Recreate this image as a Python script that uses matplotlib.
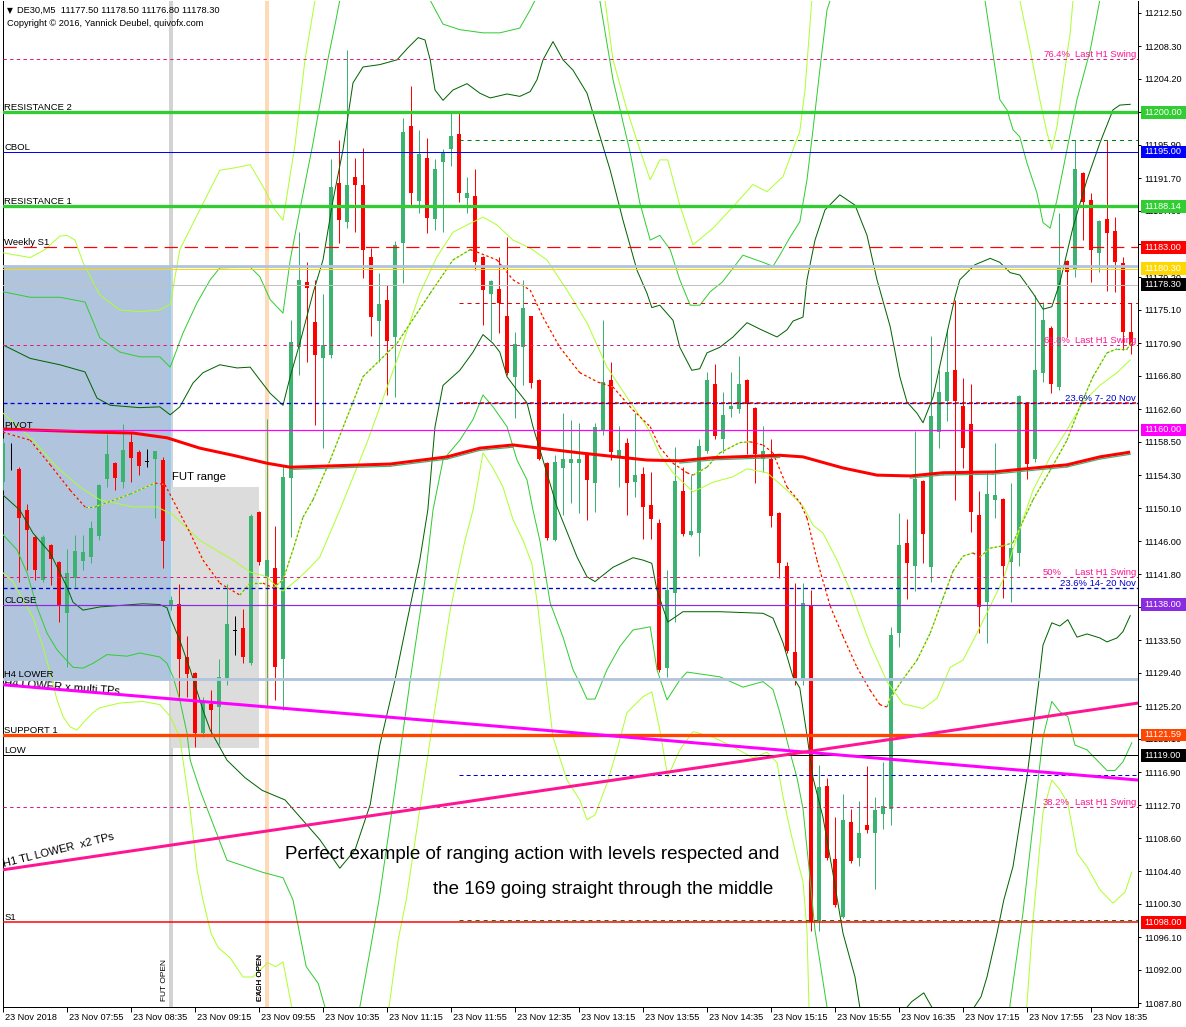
import numpy as np
import matplotlib
matplotlib.use("Agg")
import matplotlib.pyplot as plt
from matplotlib.patches import Rectangle
import matplotlib.transforms as mtransforms

plt.rcParams['font.family'] = ['Liberation Sans', 'DejaVu Sans']
plt.rcParams['lines.scale_dashes'] = False
plt.rcParams['axes.unicode_minus'] = False

# ---------------- data ----------------
time_labels = ['23 Nov 2018', '23 Nov 07:55', '23 Nov 08:35', '23 Nov 09:15', '23 Nov 09:55',
               '23 Nov 10:35', '23 Nov 11:15', '23 Nov 11:55', '23 Nov 12:35', '23 Nov 13:15',
               '23 Nov 13:55', '23 Nov 14:35', '23 Nov 15:15', '23 Nov 15:55', '23 Nov 16:35',
               '23 Nov 17:15', '23 Nov 17:55', '23 Nov 18:35']
time_label_bars = list(range(0, 137, 8))

price_ticks = [11212.50, 11208.30, 11204.20, 11200.00, 11195.90, 11191.70, 11187.60, 11183.40,
               11179.20, 11175.10, 11170.90, 11166.80, 11162.60, 11158.50, 11154.30, 11150.10,
               11146.00, 11141.80, 11137.70, 11133.50, 11129.40, 11125.20, 11121.10, 11116.90,
               11112.70, 11108.60, 11104.40, 11100.30, 11096.10, 11092.00, 11087.80]

opens = [11153.4, 11156.2, 11155.1, 11149.9, 11146.5, 11141.1, 11145.5, 11143.4, 11136.9, 11141.3,
         11143.5, 11144.0, 11146.6, 11153.8, 11155.8, 11153.4, 11158.5, 11157.2, 11156.0, 11156.3,
         11156.2, 11138.0, 11138.1, 11131.4, 11129.4, 11121.8, 11125.5, 11125.1, 11128.8, 11134.7,
         11135.1, 11130.6, 11149.7, 11141.5, 11142.6, 11131.1, 11153.9, 11170.4, 11178.6, 11173.6,
         11169.1, 11169.4, 11191.1, 11186.2, 11191.9, 11190.8, 11181.8, 11173.7, 11176.4, 11171.7,
         11183.5, 11198.3, 11188.8, 11194.2, 11186.6, 11193.7, 11195.4, 11197.3, 11189.2, 11189.5,
         11181.8, 11177.1, 11177.7, 11174.3, 11166.7, 11170.4, 11174.3, 11166.3, 11155.8, 11146.1,
         11155.2, 11155.8, 11155.8, 11156.8, 11153.3, 11159.9, 11166.3, 11156.7, 11158.4, 11153.4,
         11154.4, 11150.5, 11148.3, 11130.0, 11139.5, 11152.3, 11146.8, 11147.0, 11157.3, 11165.8,
         11158.9, 11162.6, 11162.6, 11166.3, 11162.8, 11156.3, 11156.3, 11149.5, 11142.9, 11132.0,
         11128.4, 11137.8, 11098.1, 11115.1, 11106.0, 11098.7, 11110.6, 11106.1, 11110.2, 11109.2,
         11111.6, 11112.3, 11134.4, 11145.8, 11142.9, 11153.6, 11142.7, 11159.7, 11163.6, 11167.5,
         11163.0, 11160.7, 11149.3, 11138.3, 11151.2, 11151.3, 11143.4, 11144.5, 11163.4, 11156.3,
         11167.2, 11172.8, 11165.4, 11181.3, 11180.3, 11192.4, 11189.0, 11182.3, 11186.6, 11185.0,
         11181.0, 11172.3]
highs = [11159.0, 11158.4, 11155.3, 11150.7, 11146.8, 11146.8, 11145.6, 11143.5, 11145.0, 11146.8,
         11146.8, 11148.5, 11153.2, 11159.5, 11156.0, 11160.7, 11159.7, 11157.5, 11157.6, 11157.4,
         11156.6, 11139.1, 11140.6, 11134.0, 11129.5, 11126.4, 11127.2, 11131.1, 11140.6, 11136.6,
         11137.4, 11149.4, 11149.8, 11161.4, 11147.9, 11155.5, 11173.8, 11184.9, 11181.1, 11178.9,
         11177.1, 11194.1, 11196.5, 11207.8, 11194.2, 11195.5, 11182.9, 11179.7, 11178.2, 11183.8,
         11199.3, 11203.3, 11197.8, 11196.8, 11194.1, 11195.4, 11199.9, 11199.9, 11191.9, 11192.9,
         11181.9, 11178.9, 11181.8, 11184.3, 11172.3, 11178.9, 11174.4, 11166.4, 11156.0, 11156.8,
         11162.1, 11161.2, 11160.9, 11157.2, 11160.9, 11173.8, 11168.6, 11160.5, 11159.0, 11162.1,
         11155.3, 11154.7, 11148.8, 11142.4, 11157.9, 11155.3, 11154.3, 11158.9, 11167.3, 11168.3,
         11164.8, 11167.3, 11169.3, 11166.4, 11162.9, 11160.5, 11158.9, 11149.6, 11143.4, 11140.7,
         11140.7, 11139.8, 11117.8, 11116.2, 11111.2, 11114.1, 11112.3, 11113.3, 11117.7, 11113.8,
         11118.2, 11135.2, 11149.5, 11148.8, 11159.9, 11153.7, 11171.8, 11167.5, 11172.6, 11176.4,
         11166.5, 11165.8, 11152.3, 11154.7, 11158.4, 11151.4, 11153.3, 11164.4, 11163.5, 11177.0,
         11176.1, 11173.1, 11187.3, 11181.4, 11196.5, 11192.5, 11189.8, 11186.4, 11196.5, 11186.8,
         11181.8, 11176.0]
lows = [11152.4, 11155.0, 11140.8, 11142.4, 11141.1, 11140.8, 11140.5, 11135.8, 11130.1, 11140.2,
        11142.4, 11143.2, 11146.1, 11152.8, 11152.4, 11152.7, 11153.4, 11154.3, 11155.3, 11148.9,
        11142.6, 11137.3, 11126.4, 11126.4, 11120.1, 11121.3, 11121.8, 11120.4, 11127.9, 11131.6,
        11130.6, 11130.4, 11143.0, 11125.1, 11126.0, 11124.7, 11146.5, 11166.9, 11168.6, 11160.6,
        11157.7, 11169.1, 11183.5, 11185.4, 11184.9, 11179.1, 11171.8, 11168.6, 11164.4, 11164.1,
        11178.5, 11188.3, 11187.3, 11184.8, 11185.2, 11184.9, 11193.2, 11188.7, 11187.3, 11180.1,
        11173.2, 11171.3, 11172.2, 11166.9, 11161.5, 11165.6, 11165.3, 11156.2, 11146.1, 11146.0,
        11149.3, 11150.8, 11149.5, 11148.6, 11149.6, 11159.4, 11156.2, 11152.8, 11149.3, 11151.6,
        11146.3, 11146.3, 11129.5, 11128.9, 11135.8, 11146.6, 11146.6, 11144.1, 11157.1, 11158.9,
        11157.1, 11161.6, 11162.1, 11157.0, 11153.3, 11154.7, 11147.8, 11141.3, 11131.9, 11127.9,
        11127.9, 11096.9, 11096.9, 11105.8, 11099.9, 11098.5, 11105.5, 11105.1, 11109.2, 11102.2,
        11109.7, 11110.2, 11132.7, 11138.7, 11139.7, 11143.2, 11140.8, 11157.7, 11161.1, 11151.2,
        11155.2, 11147.1, 11134.4, 11133.2, 11148.9, 11138.8, 11138.3, 11142.9, 11153.8, 11156.0,
        11166.0, 11164.6, 11165.0, 11171.7, 11179.3, 11183.9, 11178.6, 11179.9, 11177.5, 11177.4,
        11170.1, 11169.6]
closes = [11158.4, 11156.2, 11148.9, 11147.4, 11142.4, 11146.5, 11143.7, 11138.0, 11142.0, 11144.8,
          11144.6, 11147.6, 11153.1, 11157.0, 11153.9, 11157.5, 11156.5, 11155.5, 11156.0, 11157.3,
          11146.0, 11138.6, 11131.1, 11129.3, 11121.8, 11125.6, 11124.7, 11128.9, 11135.6, 11134.7,
          11131.4, 11149.1, 11143.4, 11143.6, 11130.1, 11154.1, 11171.1, 11178.9, 11177.9, 11169.4,
          11170.7, 11190.6, 11186.4, 11190.8, 11190.8, 11182.7, 11174.2, 11175.9, 11171.2, 11183.3,
          11197.5, 11189.8, 11194.8, 11186.7, 11192.9, 11194.9, 11197.0, 11189.8, 11189.8, 11181.1,
          11177.6, 11178.8, 11176.0, 11167.2, 11170.8, 11175.4, 11165.9, 11156.3, 11146.4, 11156.0,
          11156.3, 11156.3, 11156.3, 11153.7, 11160.4, 11166.0, 11157.2, 11157.5, 11153.3, 11154.3,
          11150.3, 11148.8, 11129.8, 11139.8, 11153.6, 11146.9, 11147.3, 11158.0, 11166.3, 11159.2,
          11161.9, 11163.0, 11165.8, 11163.3, 11157.0, 11157.3, 11149.2, 11143.2, 11132.2, 11128.5,
          11138.2, 11098.0, 11115.0, 11106.1, 11100.2, 11110.9, 11105.7, 11109.2, 11109.6, 11112.1,
          11112.6, 11134.2, 11145.5, 11143.2, 11153.8, 11146.9, 11161.7, 11164.8, 11167.3, 11163.6,
          11157.7, 11149.7, 11137.7, 11151.9, 11151.8, 11142.9, 11145.1, 11164.3, 11155.7, 11167.5,
          11173.8, 11165.8, 11180.5, 11179.9, 11192.9, 11188.7, 11182.7, 11186.3, 11184.8, 11181.1,
          11172.3, 11170.7]

# 169 EMA (thick red)
ema169_bar = [0, 12.1, 16.25, 20.5, 24.6, 28.75, 33, 35.9, 48.4, 55.5, 59.6, 63.75, 72.1, 80.5, 84.6,
              88.75, 97.1, 100, 105, 109.25, 113.4, 117.5, 123.75, 133, 137.1, 140.9]
ema169_price = [11160.1, 11159.7, 11159.6, 11159.0, 11157.7, 11156.8, 11155.8, 11155.3, 11155.7,
                11156.6, 11157.7, 11158.1, 11157.1, 11156.2, 11156.1, 11156.5, 11156.8, 11156.6,
                11155.2, 11154.3, 11154.2, 11154.6, 11154.7, 11155.6, 11156.6, 11157.2]

# band centre moving average (thin yellow-green)
mid_bar = [0, 3.75, 6.75, 9.6, 12.1, 16.25, 19.25, 21.25, 24.6, 28.75, 30.9, 33, 34.25, 35, 36.75, 38.4,
           39.6, 42.1, 45.5, 49.25, 52.1, 54.25, 56.25, 58, 60, 61.75, 63.75, 65.9, 68, 70.5, 73, 75.5,
           78, 80.5, 82.1, 83.75, 86.25, 88.75, 91.25, 93, 95.5, 98, 100, 101.25, 102.5, 104.25, 105.9,
           108.4, 110.5, 112.5, 115, 116.75, 118.4, 120, 121.75, 123.4, 125, 126.75, 128.75, 130.9,
           133, 135, 137.1, 139.25, 140.9]
mid_price = [11162.1, 11158.7, 11155.3, 11152.8, 11151.2, 11150.3, 11150.3, 11149.3, 11146.1, 11143.6,
             11142.1, 11141.5, 11140.2, 11139.7, 11141.1, 11142.7, 11144.0, 11149.9, 11158.4, 11168.8,
             11177.2, 11181.8, 11184.9, 11185.8, 11186.8, 11185.8, 11183.9, 11182.9, 11181.4, 11177.6,
             11173.5, 11167.9, 11164.1, 11160.4, 11156.9, 11154.6, 11152.2, 11153.4, 11154.1, 11155.1,
             11154.6, 11152.4, 11150.4, 11148.0, 11147.0, 11143.6, 11139.8, 11133.0, 11128.3, 11125.5,
             11124.9, 11126.2, 11130.1, 11131.0, 11134.4, 11137.8, 11141.1, 11146.5, 11152.4, 11156.6,
             11160.0, 11163.5, 11165.6, 11167.2, 11168.8]

# fast moving average (two-colour dashed)
fast_bar = [0, 3.4, 5.9, 8.4, 10.25, 11.5, 15.9, 19, 20.25, 23.4, 25, 27.1, 29.6, 30.9, 32.5, 33.75, 35,
            36.25, 37.5, 38.75, 40.9, 45, 49.25, 53.4, 56.25, 58.4, 59.25, 61.75, 63.75, 65.9, 67.5,
            69.6, 72.1, 74.4, 76.25, 78.75, 80.9, 82.1, 83.75, 85.5, 86.25, 88, 89.6, 92.1, 93.4, 95,
            96.25, 98, 99.6, 100.5, 101.75, 103.4, 105, 106.75, 108.4, 109.6, 110.5, 110.9, 112.5,
            114.25, 115.9, 117.5, 118.75, 120, 121.25, 122.1, 123.4, 125, 126.25, 128.75, 130.9, 133,
            134.6, 136.25, 138, 139.25, 140.5, 141.1]
fast_price = [11159.7, 11158.7, 11155.6, 11152.4, 11150.3, 11150.3, 11151.9, 11153.3, 11153.1, 11147.0,
              11143.6, 11140.7, 11139.2, 11140.7, 11140.7, 11140.1, 11141.1, 11144.9, 11149.0, 11151.2,
              11156.2, 11166.7, 11170.9, 11177.2, 11181.4, 11182.7, 11182.4, 11181.4, 11178.9, 11177.6,
              11174.2, 11170.4, 11167.2, 11166.0, 11165.4, 11162.5, 11160.4, 11157.8, 11155.8, 11154.6,
              11154.3, 11155.3, 11157.1, 11158.4, 11158.5, 11158.1, 11157.1, 11152.8, 11150.9, 11148.9,
              11143.6, 11137.8, 11134.0, 11130.1, 11127.2, 11125.4, 11125.1, 11126.2, 11128.6, 11131.0,
              11134.4, 11138.8, 11142.2, 11144.1, 11144.5, 11144.0, 11145.1, 11145.4, 11145.8, 11151.2,
              11154.9, 11158.7, 11162.9, 11166.7, 11169.7, 11170.2, 11170.2, 11171.0]

# envelope bands (inner dark green, middle green, outer yellow-green)
dg_up_bar = [0, 3.4, 7.1, 10.25, 11.75, 13.4, 17.1, 19.6, 20.9, 22.1, 23.75, 25, 27.1, 29.25, 30.9, 32.1,
             33.4, 35, 35.9, 37.1, 38.75, 40, 41.25, 42.5, 43.75, 45, 47.1, 49.25, 50.6, 51.9, 52.75, 53.4,
             54, 55, 56.25, 58, 59.6, 60.9, 63, 64.6, 65.9, 66.75, 67.5, 68.75, 70, 71.25, 73, 74.25, 75.9,
             77.5, 79.25, 80.5, 81.1, 82.1, 83.75, 84.6, 86.1, 87.1, 88, 89.6, 91.25, 93, 94.6, 96.75, 98,
             98.75, 100, 100.5, 101.5, 102.75, 104.6, 106.5, 108, 109.25, 110.9, 112.1, 113, 114.25, 115,
             116.25, 118, 119, 119.6, 121.5, 123.4, 124.6, 125.9, 127.1, 128.75, 130, 131.1, 132.1,
             133.75, 135.5, 137.1, 138.75, 139.6, 140.9]
dg_up_price = [11170.7, 11169.0, 11168.2, 11167.3, 11164.0, 11163.1, 11162.8, 11162.9, 11161.9, 11162.9,
               11165.9, 11167.2, 11168.2, 11167.8, 11167.9, 11166.3, 11164.6, 11163.1, 11166.7, 11170.9,
               11177.2, 11181.4, 11188.9, 11195.3, 11203.7, 11205.7, 11206.0, 11206.6, 11208.1, 11209.4,
               11209.1, 11206.6, 11202.8, 11201.5, 11202.8, 11203.6, 11202.4, 11201.8, 11202.3, 11202.0,
               11202.6, 11204.1, 11206.6, 11208.9, 11206.6, 11205.3, 11202.4, 11198.2, 11192.7, 11186.4,
               11180.1, 11177.2, 11175.4, 11175.7, 11173.8, 11170.4, 11167.5, 11167.7, 11169.7, 11170.4,
               11171.7, 11173.5, 11172.7, 11171.7, 11172.6, 11173.7, 11174.2, 11178.9, 11183.9, 11187.7,
               11189.6, 11188.3, 11184.5, 11178.9, 11173.0, 11166.7, 11163.5, 11162.1, 11160.9, 11164.1,
               11172.2, 11176.7, 11178.9, 11180.8, 11181.6, 11181.1, 11179.8, 11179.5, 11177.2, 11175.2,
               11175.5, 11178.5, 11185.5, 11191.5, 11196.1, 11200.3, 11200.9, 11201.0]
dg_lo_bar = [0, 2.1, 3.75, 5.9, 8, 8.75, 10, 12.1, 17.5, 19.6, 20.5, 20.9, 22.1, 23.4, 25, 25.9, 28, 30.25,
             32.4, 35.25, 39.6, 42.1, 44, 45.9, 47.1, 49, 50.4, 52.1, 53.1, 54, 55, 57.1, 58.75, 60, 61.25,
             62.1, 63, 64.25, 65.5, 66.25, 67.5, 69.25, 71.75, 73, 74, 76.25, 78.75, 80, 81.1, 81.75, 83.1,
             85, 89.6, 95, 96.25, 97.5, 98.75, 99.6, 100.5, 101.25, 102.5, 103.75, 105, 106.5, 107.1,
             108.4, 112.1, 113, 113.6, 115.1, 116.1, 117.75, 120.25, 121.4, 122.25, 123, 124.25, 125.1,
             126.25, 128, 129.5, 130, 131.1, 132.1, 133.1, 134.25, 135.5, 137.1, 138, 139.25, 140, 140.9]
dg_lo_price = [11151.8, 11149.9, 11147.0, 11144.5, 11140.2, 11138.3, 11137.3, 11137.7, 11138.1, 11138.0,
               11137.6, 11136.4, 11133.5, 11129.8, 11124.7, 11122.2, 11118.4, 11116.2, 11114.6, 11113.4,
               11108.4, 11104.8, 11107.1, 11112.8, 11120.3, 11128.5, 11135.4, 11143.6, 11149.9, 11160.4,
               11165.6, 11167.5, 11169.8, 11172.0, 11170.9, 11169.8, 11166.7, 11165.0, 11163.4, 11160.4,
               11156.2, 11150.3, 11144.0, 11141.5, 11140.9, 11142.7, 11143.9, 11143.6, 11143.2, 11139.8,
               11135.8, 11137.1, 11137.1, 11136.9, 11136.3, 11133.2, 11128.9, 11127.5, 11121.5, 11116.2,
               11111.2, 11104.1, 11096.6, 11091.1, 11087.3, 11080.6, 11080.6, 11087.3, 11088.0, 11089.1,
               11087.3, 11080.6, 11080.6, 11087.3, 11088.6, 11091.1, 11096.6, 11100.8, 11105.0, 11116.3,
               11128.5, 11132.9, 11135.7, 11135.3, 11136.1, 11133.9, 11134.3, 11133.8, 11133.3, 11133.8,
               11134.6, 11136.6]
g_up_bar = [0, 3.4, 7.1, 10.25, 12.1, 14.6, 17.1, 19.6, 20.9, 22.5, 24.25, 25.9, 27.1, 30.9, 32.1, 33.4, 35,
            35.9, 37.1, 38.75, 40, 40.6, 41.5, 42.1, 42.75, 52.75, 53.4, 55, 57.1, 60, 62.1, 64.6, 65.9,
            66.5, 67.1, 74, 74.6, 76.25, 78.4, 79.6, 80.9, 82.1, 83.4, 84.6, 85.9, 87.1, 88.4, 89.9, 92.5,
            95, 96.25, 97.1, 98.4, 99.6, 100.5, 101.25, 102.1, 103, 103.4, 104, 122.1, 122.75, 124.6,
            125.5, 126.25, 127.1, 128, 129.25, 130, 130.9, 131.75, 133, 134.25, 135.9, 137.1, 137.75, 142.1]
g_up_price = [11177.4, 11176.7, 11176.7, 11176.1, 11171.6, 11169.8, 11169.2, 11169.2, 11167.9, 11172.2,
              11176.0, 11178.9, 11180.4, 11180.5, 11179.3, 11176.4, 11174.7, 11181.4, 11187.7, 11196.1,
              11203.2, 11206.6, 11211.0, 11214.1, 11219.2, 11219.2, 11214.1, 11211.1, 11210.4, 11210.0,
              11210.0, 11210.6, 11212.9, 11214.1, 11219.2, 11219.2, 11214.1, 11204.1, 11194.9, 11188.6,
              11183.9, 11184.5, 11182.7, 11178.9, 11175.7, 11175.7, 11177.4, 11178.6, 11182.0, 11181.1,
              11180.6, 11182.0, 11184.3, 11186.2, 11191.5, 11197.8, 11205.3, 11212.9, 11214.1, 11219.2,
              11219.2, 11214.1, 11201.6, 11200.3, 11197.8, 11196.9, 11193.6, 11189.8, 11186.1, 11185.4,
              11189.0, 11195.3, 11201.6, 11207.8, 11214.1, 11219.2, 11219.2]
g_lo_bar = [0, 1.75, 3, 4.25, 5.5, 6.75, 8.75, 10, 11.25, 13, 15.5, 17.1, 19.6, 20.5, 21.25, 22.1, 23, 23.4,
            24.6, 28, 32.4, 35, 36.25, 37.9, 39.4, 40.25, 40.9, 44, 44.6, 45.9, 47, 49, 50.9, 52.75, 53.75,
            55, 57.1, 58.75, 60, 61.25, 63, 64.25, 65.5, 66.25, 67.1, 68.4, 70, 71.25, 72.1, 73, 74, 75.5,
            77.1, 78.75, 80.9, 81.75, 83, 84.6, 85.5, 89.6, 92.5, 95, 96.25, 97.1, 98.4, 99.25, 100, 100.9,
            101.5, 103, 104, 125.25, 125.9, 127.5, 129.25, 130, 131.1, 132.1, 133.1, 134, 135.5, 136.75,
            138, 139, 140, 141.1]
g_lo_price = [11146.8, 11144.9, 11142.0, 11137.7, 11134.4, 11132.3, 11130.1, 11130.0, 11130.6, 11131.7,
              11131.5, 11131.9, 11131.4, 11130.6, 11128.9, 11126.0, 11121.8, 11118.4, 11114.7, 11105.8,
              11104.3, 11103.6, 11100.8, 11092.4, 11090.3, 11087.3, 11081.9, 11081.9, 11087.3, 11094.5,
              11100.8, 11114.7, 11128.5, 11141.1, 11149.9, 11156.2, 11158.7, 11161.3, 11164.4, 11162.9,
              11160.4, 11156.2, 11153.7, 11149.9, 11146.1, 11138.2, 11133.9, 11129.8, 11128.1, 11126.1,
              11126.1, 11129.8, 11132.7, 11134.8, 11135.2, 11129.8, 11126.0, 11128.5, 11129.5, 11128.9,
              11127.6, 11128.3, 11127.3, 11124.4, 11119.3, 11116.2, 11112.3, 11103.3, 11097.0, 11087.3,
              11081.9, 11081.9, 11087.8, 11099.2, 11114.7, 11121.3, 11125.8, 11124.5, 11123.9, 11120.3,
              11119.7, 11118.4, 11117.1, 11117.1, 11118.2, 11120.6]
yg_up_bar = [0, 3.4, 5.25, 7.1, 8, 9, 10, 12.1, 14.6, 17.1, 19.6, 20.9, 22.1, 24.6, 27.1, 29, 30.9, 32.75,
             34, 35, 36.5, 37.75, 39, 39.6, 74.6, 75.25, 76.25, 78, 79.6, 80.9, 82.1, 83.1, 84.6, 86.25,
             88.75, 91.25, 93.75, 95.5, 97.5, 99.6, 100.25, 101.1, 101.5, 126.75, 127.1, 128.4, 129.6,
             130.5, 131.1, 131.75, 132.5, 133.4, 133.75, 134.1, 142.1]
yg_up_price = [11182.3, 11181.7, 11182.7, 11184.4, 11184.5, 11183.9, 11181.1, 11177.0, 11175.1, 11174.9,
               11175.1, 11175.8, 11182.7, 11187.7, 11192.7, 11193.0, 11193.4, 11190.2, 11187.7, 11186.4,
               11195.9, 11206.6, 11214.1, 11220.4, 11220.4, 11214.1, 11206.6, 11200.3, 11195.3, 11191.5,
               11194.0, 11194.0, 11188.3, 11183.3, 11185.4, 11188.1, 11190.9, 11190.0, 11191.9, 11197.6,
               11202.8, 11214.1, 11220.4, 11220.4, 11214.1, 11207.8, 11201.6, 11197.4, 11195.3, 11198.2,
               11203.7, 11210.0, 11214.1, 11220.4, 11220.4]
yg_lo_bar = [0, 1.25, 2.5, 3.75, 5, 5.9, 6.75, 7.5, 8.4, 9.25, 10, 11.25, 12.1, 14.6, 17.5, 19.6, 20.9, 22.1,
             22.5, 23.4, 24.25, 25, 26, 26.9, 28.4, 30, 31.25, 33.1, 34.1, 35, 36.1, 37.1, 47.1, 48.25, 49.4,
             50.4, 53.4, 55.9, 57.75, 58.75, 60, 61.25, 62.5, 63.75, 65, 66.1, 66.9, 67.75, 68.75, 70.5,
             72.1, 73, 74, 75.5, 76.75, 78, 80, 81.1, 82.1, 83.1, 84.6, 86.25, 88.75, 91.25, 93.75, 95.5,
             96.75, 97.5, 98.4, 99.25, 100, 100.5, 100.75, 101.5, 127.1, 128, 128.75, 130, 131.1, 132.1,
             133.1, 134.25, 135.5, 137.1, 138.75, 140.25, 141.1]
yg_lo_price = [11142.0, 11140.9, 11138.6, 11136.4, 11132.7, 11129.4, 11126.0, 11123.9, 11122.6, 11122.2,
               11123.1, 11124.4, 11125.0, 11125.6, 11125.8, 11125.4, 11123.9, 11121.3, 11118.4, 11112.1,
               11104.6, 11100.8, 11096.6, 11094.8, 11093.5, 11091.1, 11091.1, 11092.9, 11092.4, 11093.0,
               11087.3, 11080.6, 11080.6, 11087.3, 11095.8, 11100.8, 11121.0, 11137.3, 11146.1, 11149.9,
               11157.1, 11155.2, 11152.8, 11148.7, 11146.1, 11143.2, 11137.3, 11129.8, 11121.3, 11115.9,
               11113.4, 11110.9, 11111.5, 11115.5, 11119.7, 11124.4, 11126.4, 11127.0, 11122.2, 11116.3,
               11119.7, 11122.0, 11121.3, 11120.1, 11118.7, 11119.4, 11118.1, 11113.8, 11109.6, 11106.0,
               11103.1, 11096.9, 11087.3, 11080.6, 11080.6, 11087.8, 11098.3, 11111.8, 11115.9, 11114.7,
               11113.0, 11106.7, 11105.0, 11102.1, 11100.4, 11101.8, 11104.3]

# labelled horizontal levels (left labels)
pivot_names = ['RESISTANCE 2', 'CBOL', 'RESISTANCE 1', 'Weekly S1', 'PIVOT', 'CLOSE', 'H4 LOWER',
               'SUPPORT 1', 'LOW', 'S1']
pivot_prices = [11200.00, 11195.00, 11188.14, 11183.00, 11160.00, 11138.00, 11128.6,
                11121.59, 11119.00, 11098.00]
# fibonacci levels
fib_pcts = ['76.4%', '61.8%', '50%', '38.2%']
fib_prices = [11206.7, 11170.7, 11141.5, 11112.5]
weekly_fib_labels = ['23.6% 7- 20 Nov', '23.6% 14- 20 Nov']
weekly_fib_prices = [11163.4, 11140.05]
# other plain levels
box_top_price = 11180.7
gold_price = 11180.30
bid_price = 11178.30
# short levels drawn from the 11:55 bar on
short_level_prices = [11196.5, 11175.95, 11163.4, 11116.5, 11098.3]
short_level_start = 57
# trend lines
h4_tl_bar = [0, 141.9]
h4_tl_price = [11127.9, 11115.9]
h1_tl_bar = [0, 141.9]
h1_tl_price = [11104.6, 11125.6]
# zones
asia_box = (-1.0, 20.875, 11128.6, 11180.7)
fut_box = (21.0, 32.0, 11119.9, 11152.8)
fut_open_bar = 21
exch_open_bar = 33
# right-axis price boxes
box_prices = [11200.00, 11195.00, 11188.14, 11183.00, 11180.30, 11178.30, 11160.00, 11138.00,
              11121.59, 11119.00, 11098.00]
box_colors = ['#32CD32', '#0000FF', '#32CD32', '#FF0000', '#FFD700', '#000000', '#FF00FF', '#8A2BE2',
              '#FF4500', '#000000', '#FF0000']

# ---------------- figure ----------------
W, H = 1186, 1027
fig = plt.figure(figsize=(W / 100, H / 100), dpi=100)
AX_L, AX_R, AX_T, AX_B = 2.5, 1138.3, 1.0, 1007.0
ax = fig.add_axes([AX_L / W, 1 - AX_B / H, (AX_R - AX_L) / W, (AX_B - AX_T) / H])
ax.set_xlim(-0.0625, -0.0625 + (AX_R - AX_L) / 8.0)
ax.set_ylim(11087.32, 11214.01)
ax.set_facecolor('white')

PX = 0.72  # one pixel in points
blend = mtransforms.blended_transform_factory(fig.transFigure, ax.transData)


def fx(px):
    return px / W


def fy(py):
    return 1 - py / H


# background zones
ax.add_patch(Rectangle((asia_box[0], asia_box[2]), asia_box[1] - asia_box[0], asia_box[3] - asia_box[2],
                       facecolor='#B0C4DE', edgecolor='none', zorder=1.5))
ax.add_patch(Rectangle((fut_box[0], fut_box[2]), fut_box[1] - fut_box[0], fut_box[3] - fut_box[2],
                       facecolor='#DCDCDC', edgecolor='none', zorder=1.2))
ax.axvline(fut_open_bar, color='#D3D3D3', lw=4 * PX, zorder=1.0)
ax.axvline(exch_open_bar, color='#FFDAB9', lw=4 * PX, zorder=1.6)
ax.vlines(asia_box[1], asia_box[2], asia_box[3], color='#87CEFA', lw=1.5 * PX, zorder=1.7)

# trend line text, its upper part hidden under the zone box
ax.text(0.1, 11127.75, 'H4 LOWER x multi TPs', fontsize=8, rotation=-4.2, rotation_mode='anchor',
        ha='left', va='baseline', zorder=1.4)

# bands
band_kw = dict(lw=1 * PX, zorder=5, solid_joinstyle='round')
ax.plot(dg_up_bar, dg_up_price, color='#006400', **band_kw)
ax.plot(dg_lo_bar, dg_lo_price, color='#006400', **band_kw)
ax.plot(g_up_bar, g_up_price, color='#32CD32', **band_kw)
ax.plot(g_lo_bar, g_lo_price, color='#32CD32', **band_kw)
ax.plot(yg_up_bar, yg_up_price, color='#ADFF2F', **band_kw)
ax.plot(yg_lo_bar, yg_lo_price, color='#ADFF2F', **band_kw)
ax.plot(mid_bar, mid_price, color='#ADFF2F', **band_kw)

# fast MA: red dashes while falling, green/yellow dashes while rising
for i in range(len(fast_bar) - 1):
    xs = fast_bar[i:i + 2]
    ys = fast_price[i:i + 2]
    if ys[1] >= ys[0]:
        ax.plot(xs, ys, color='#FFFF00', lw=1.1 * PX, zorder=5.1, solid_capstyle='butt')
        ax.plot(xs, ys, color='#3CB371', lw=1.2 * PX, dashes=(1.8, 1.4), dash_capstyle='butt', zorder=5.2)
    else:
        ax.plot(xs, ys, color='#FFFF00', lw=1.1 * PX, dashes=(1.0, 4.0), dash_capstyle='butt', zorder=5.1)
        ax.plot(xs, ys, color='#FF0000', lw=1.2 * PX, dashes=(1.8, 1.8), dash_capstyle='butt', zorder=5.2)

# candles
n = len(opens)
xb = np.arange(n)
o = np.array(opens); c = np.array(closes); h = np.array(highs); l = np.array(lows)
cols = np.where(c > o, '#3CB371', np.where(c < o, '#FF0000', '#000000'))
ax.vlines(xb, l, h, colors=cols, lw=1 * PX, zorder=4)
body_h = np.abs(c - o)
ax.bar(xb, np.where(body_h == 0, 0.08, body_h), bottom=np.minimum(o, c) - np.where(body_h == 0, 0.04, 0),
       width=0.62, color=cols, edgecolor='none', zorder=4.1)

# 169 EMA
down = mtransforms.offset_copy(ax.transData, fig=fig, x=0, y=-1.6, units='points')
for i in range(len(ema169_bar) - 1):
    if ema169_price[i + 1] > ema169_price[i]:
        ax.plot(ema169_bar[i:i + 2], ema169_price[i:i + 2], color='#3CB371', lw=1.2 * PX,
                transform=down, zorder=5.4)
ax.plot(ema169_bar, ema169_price, color='#FF0000', lw=3 * PX, zorder=5.5, solid_capstyle='butt')

# horizontal levels
lvl = dict(zorder=6)
ax.axhline(box_top_price, color='#B0C4DE', lw=2.8 * PX, **lvl)
ax.axhline(pivot_prices[6], color='#B0C4DE', lw=2.8 * PX, **lvl)
ax.axhline(gold_price, color='#FFD700', lw=1 * PX, **lvl)
ax.axhline(bid_price, color='#C0C0C0', lw=1 * PX, **lvl)
for p in fib_prices:
    ax.axhline(p, color='#E0197D', lw=1 * PX, dashes=(2.4, 2.4), **lvl)
for p in weekly_fib_prices:
    ax.axhline(p, color='#0000CD', lw=1.3 * PX, dashes=(2.9, 2.2), **lvl)
short_styles = [('#008000', 1.0, (2.9, 2.9)), ('#E00000', 1.0, (2.9, 2.9)), ('#CC0000', 1.6, (2.9, 2.2)),
                ('#0000CD', 1.0, (2.9, 2.2)), ('#008000', 1.0, (2.9, 2.9))]
for p, (col, lw, ds) in zip(short_level_prices, short_styles):
    ax.hlines(p, short_level_start, 150, color=col, lw=lw * PX, linestyles=[(0, ds)], zorder=6.1)

pivot_styles = [('#32CD32', 3.3, None), ('#0000FF', 1.0, None), ('#32CD32', 3.3, None),
                ('#FF0000', 1.2, (9.5, 5.0)), ('#FF00FF', 1.2, None), ('#8A2BE2', 1.2, None),
                (None, 0, None), ('#FF4500', 3.3, None), ('#000000', 1.0, None), ('#FF0000', 1.5, None)]
for p, (col, lw, ds) in zip(pivot_prices, pivot_styles):
    if col is None:
        continue
    if ds is None:
        ax.axhline(p, color=col, lw=lw * PX, zorder=6.2)
    else:
        ax.axhline(p, color=col, lw=lw * PX, dashes=ds, zorder=6.2)

# trend lines
ax.plot(h4_tl_bar, h4_tl_price, color='#FF00FF', lw=3 * PX, zorder=6.3)
ax.plot(h1_tl_bar, h1_tl_price, color='#FF1493', lw=3 * PX, zorder=6.3)

# level labels
up2 = mtransforms.ScaledTranslation(0, 2.0 / 100, fig.dpi_scale_trans)
left_blend = mtransforms.blended_transform_factory(ax.transAxes, ax.transData)
for name, p in zip(pivot_names, pivot_prices):
    ax.text(0.0015, p, name, transform=left_blend + up2, fontsize=6.8, ha='left', va='baseline', zorder=8)
for pct, p in zip(fib_pcts, fib_prices):
    ax.text(fx(1043), p, pct, transform=blend + up2, fontsize=6.8, color='#FF1493', ha='left',
            va='baseline', zorder=8, clip_on=False)
    ax.text(fx(1136), p, 'Last H1 Swing', transform=blend + up2, fontsize=6.8, color='#FF1493',
            ha='right', va='baseline', zorder=8, clip_on=False)
for s, p in zip(weekly_fib_labels, weekly_fib_prices):
    ax.text(fx(1136), p, s, transform=blend + up2, fontsize=6.8, color='#0000CD', ha='right',
            va='baseline', zorder=8, clip_on=False)

ax.text(0.15, 11104.9, 'H1 TL LOWER  x2 TPs', fontsize=8.0, rotation=14.0, rotation_mode='anchor',
        ha='left', va='baseline', zorder=8)

# axes styling
for side in ['left', 'bottom', 'right']:
    ax.spines[side].set_linewidth(1 * PX)
    ax.spines[side].set_color('black')
ax.spines['top'].set_visible(False)
ax.yaxis.tick_right()
ax.set_yticks(price_ticks)
ax.set_yticklabels([f'{v:.2f}' for v in price_ticks])
ax.tick_params(axis='y', length=2.2, width=0.7, pad=2.0, labelsize=6.6, colors='black')
ax.set_xticks(time_label_bars)
ax.set_xticklabels(time_labels)
ax.tick_params(axis='x', length=3.6, width=0.7, pad=0.8, labelsize=6.6, colors='black')
shift = mtransforms.ScaledTranslation(2.0 / 100, 0, fig.dpi_scale_trans)
for lab in ax.get_xticklabels():
    lab.set_horizontalalignment('left')
    lab.set_transform(lab.get_transform() + shift)

# right-axis price boxes
for p, col in zip(box_prices, box_colors):
    ax.add_patch(Rectangle((fx(1140.5), p - 0.8), fx(1186) - fx(1140.5), 1.6, transform=blend,
                           facecolor=col, edgecolor='none', clip_on=False, zorder=20))
    ax.text(fx(1144.5), p, f'{p:.2f}', transform=blend, color='white', fontsize=6.6, ha='left',
            va='center', clip_on=False, zorder=21)

# texts
fig.text(fx(7), fy(10.5), '\u25BC', fontsize=5.5, ha='left', va='center', family=['DejaVu Sans'])
fig.text(fx(17), fy(10.5), 'DE30,M5  11177.50 11178.50 11176.80 11178.30', fontsize=6.7, ha='left',
         va='center')
fig.text(fx(7), fy(23.5), 'Copyright \u00A9 2016, Yannick Deubel, quivofx.com', fontsize=6.7, ha='left',
         va='center')
fig.text(fx(172), fy(480.5), 'FUT range', fontsize=8.2, ha='left', va='baseline')
fig.text(fx(165), fy(1001), 'FUT OPEN', fontsize=6.0, rotation=90, ha='center', va='bottom')
fig.text(fx(260), fy(1001), 'EXCH OPEN', fontsize=5.8, rotation=90, ha='center', va='bottom')
fig.text(fx(261), fy(1001), 'CASH OPEN', fontsize=5.8, rotation=90, ha='center', va='bottom')
fig.text(fx(532.5), fy(859), 'Perfect example of ranging action with levels respected and', fontsize=13.5,
         ha='center', va='baseline')
fig.text(fx(603.5), fy(894), 'the 169 going straight through the middle', fontsize=13.5, ha='center',
         va='baseline')

fig.savefig('out.png', dpi=100, facecolor='white')
